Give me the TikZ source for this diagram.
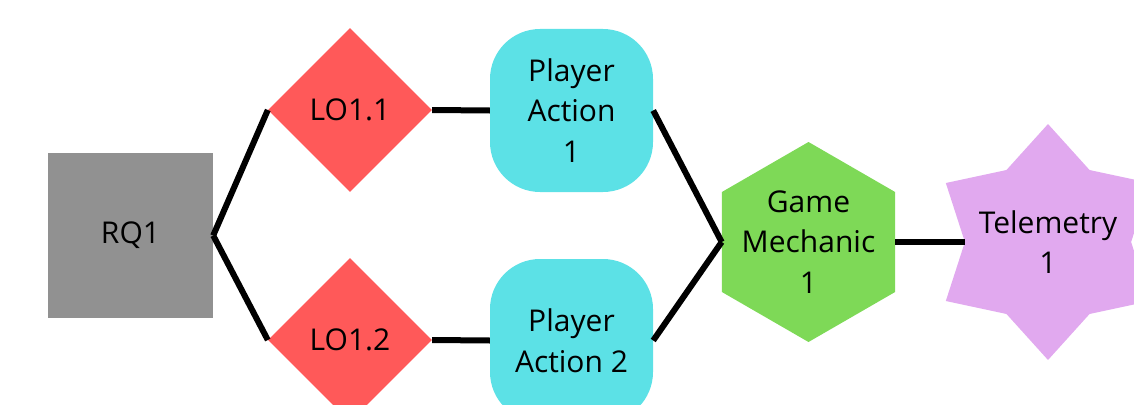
\documentclass[tikz,border=0pt]{standalone}
\usepackage{fontspec}
\setmainfont{Open Sans}
\usepackage{tikz}
\usetikzlibrary{shapes.geometric, positioning}
\usepackage{xcolor}
\definecolor{rqgray}{RGB}{145, 145, 145}
\definecolor{lored}{RGB}{255, 89, 89}
\definecolor{pacyan}{RGB}{92, 225, 230}
\definecolor{gmgreen}{RGB}{126, 217, 87}
\definecolor{tmlilac}{RGB}{225, 169, 239}
\tikzstyle{question} = [rectangle, minimum width=165pt, minimum height=165pt, fill=rqgray]
\tikzstyle{objective} = [diamond, aspect=1, minimum width=164pt, minimum height=164pt, inner sep=0pt, fill=lored]
\tikzstyle{action} = [rectangle, rounded corners=50pt, minimum width=163pt, minimum height=163pt,
                      align=center, fill=pacyan]
\tikzstyle{mechanic} = [regular polygon, regular polygon sides=6, shape border rotate=30,
                        minimum size=200pt, inner sep=0pt, fill=gmgreen]
\tikzstyle{telemetry} = [star, star points=6, star point ratio=1.42, minimum size=236pt,
                         inner sep=0pt, fill=tmlilac]
\tikzstyle{link} = [line width=6pt, black]

\begin{document}
\begin{tikzpicture}[x=1pt, y=1pt, font=\fontsize{30}{40.5}\selectfont]

\useasboundingbox (0, 0) rectangle (1134, -404);

% Research question
\node[question] (rq) at (130.5, -235.5) {RQ1};

% Learning objectives
\node[objective] (lo11) at (350, -110) {LO1.1};
\node[objective] (lo12) at (350, -340) {LO1.2};

% Player actions
\node[action] (pa1) at (571.5, -110.5) {Player\\Action\\1};
\node[action] (pa2) at (571.5, -340.5) {Player\\Action 2};

% Game mechanic
\node[mechanic, label={[align=center]center:Game\\Mechanic\\1}] (gm) at (808.5, -242) {};

% Telemetry
\node[telemetry, label={[align=center]center:Telemetry\\1}] (tm) at (1048, -242) {};

% Links
\draw[link] (rq.east) -- (lo11.west);
\draw[link] (rq.east) -- (lo12.west);
\draw[link] (lo11.east) -- (pa1.west);
\draw[link] (lo12.east) -- (pa2.west);
\draw[link] (pa1.east) -- (gm.west);
\draw[link] (pa2.east) -- (gm.west);
\draw[link] (gm.east) -- (tm.west);

\end{tikzpicture}
\end{document}
